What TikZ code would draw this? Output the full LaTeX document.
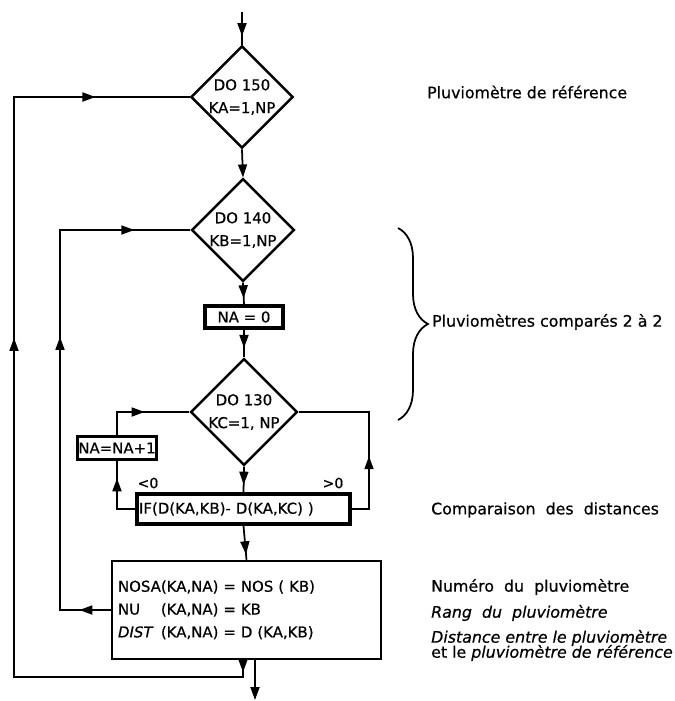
\documentclass[tikz,border=0pt]{standalone}
\usepackage{fontspec}
\setmainfont{DejaVu Sans}[FakeBold=0.6, ItalicFeatures={FakeBold=0.6}]
\usetikzlibrary{arrows.meta,calc,positioning,shapes.geometric,decorations.markings,decorations.pathreplacing}

\begin{document}
\begin{tikzpicture}[
  x=0.02cm, y=-0.02cm,
  font=\fontsize{8.5}{13}\selectfont,
  >={Triangle[length=2.6mm,width=1.8mm]},
  ln/.style     = {line width=1pt},
  arrat/.style  = {postaction={decorate, decoration={markings,
                     mark=at position #1 with {\arrow{>}}}}},
  dobox/.style  = {diamond, draw, line width=1.4pt, inner sep=0pt, align=center,
                   minimum width=1.9cm, minimum height=1.86cm},
  opbox/.style  = {rectangle, draw, line width=1.8pt, inner sep=1pt},
  sgn/.style    = {font=\fontsize{8}{10}\selectfont},
  note/.style   = {anchor=west, font=\fontsize{9}{11}\selectfont},
]
\useasboundingbox (0,0) rectangle (675,701);

%% ------------------------------------------------------------------ BLOCKS
\node[dobox] (d150) at (242,97)  {DO 150\\KA=1,NP};
\node[dobox] (d140) at (243,230) {DO 140\\KB=1,NP};
\node[opbox, minimum width=1.56cm, minimum height=0.44cm] (na0) at (244,317) {NA = 0};
\node[dobox] (d130) at (244,412) {DO 130\\KC=1, NP};
\node[opbox, minimum width=1.54cm, minimum height=0.46cm, inner sep=0.5pt] (nainc) at (117,448) {NA=NA+1};
\node[opbox, text width=4.18cm, inner xsep=0.04cm, minimum height=0.6cm, align=left]
  (ifbox) at (243.5,509) {IF(D(KA,KB)- D(KA,KC) )};
\node[opbox, line width=1.4pt, text width=5.14cm, inner xsep=0.12cm, minimum height=1.96cm, align=left]
  (calc) at (246.5,610)
  {\begin{tabular}{@{}l@{}l@{}}
     NOSA & (KA,NA) = NOS ( KB)\\
     NU   & (KA,NA) = KB\\
     \textit{DIST}\, & (KA,NA) = D (KA,KB)
   \end{tabular}};

\node[sgn] (neg) at (148,483) {<0};
\node[sgn] (pos) at (333,483) {>0};

%% ------------------------------------------------------------------ MAIN FLOW
\coordinate (start) at (242,12);
\coordinate (exit)  at (255,700);
\draw[ln, arrat=0.74] (start) -- (d150.north);
\draw[ln, ->] (d150.south) -- (d140.north);
\draw[ln, arrat=0.72] (d140.south) -- (na0.north);
\draw[ln, arrat=0.66] (na0.south) -- (d130.north);
\draw[ln, arrat=0.70] (d130.south) -- (ifbox.north);
\draw[ln, arrat=0.84] (ifbox.south) -- (calc.north);
\draw[ln, ->] (calc.south -| exit) -- (exit);

%% ------------------------------------------------------------------ LOOPS
\coordinate (ret)    at (243,677);
\coordinate (outer)  at (14,677);
\coordinate (innerx) at (60,0);
\coordinate (rightx) at (369,0);

% KA loop
\draw[ln, arrat=0.012, arrat=0.584, arrat=0.906]
  (calc.south -| ret) -- (ret) -- (outer) |- (d150.west);
% KB loop
\draw[ln, arrat=0.056, arrat=0.577, arrat=0.90]
  (calc.west) -- (calc.west -| innerx) |- (d140.west);
% KC loop, < 0
\draw[ln, arrat=0.74] (ifbox.west) -| (nainc.south);
\draw[ln, arrat=0.53] (nainc.north) |- (d130.west);
% KC loop, > 0
\draw[ln, arrat=0.38] (ifbox.east) -- (ifbox.east -| rightx) |- (d130.east);

%% ------------------------------------------------------------------ NOTES
\draw[ln, decorate, decoration={brace, amplitude=0.6cm}] (398,228) -- (398,420);

\node[note] (lref)  at (421,92)  {Pluviomètre de référence};
\node[note] (lcmp)  at (426,322) {Pluviomètres comparés 2 à 2};
\node[note] (ldst)  at (425,510) {Comparaison\ \ des\ \ distances};
\node[note] (lnum)  at (425,587) {Numéro\ \ du\ \ pluviomètre};
\node[note] (lrang) at (425,613) {\textit{Rang\ \ du\ \ pluviomètre}};
\node[note] (ldis1) at (425,638) {\textit{Distance\ entre le pluviomètre}};
\node[note] (ldis2) at (425,653) {et le \textit{pluviomètre de référence}};

\end{tikzpicture}
\end{document}
